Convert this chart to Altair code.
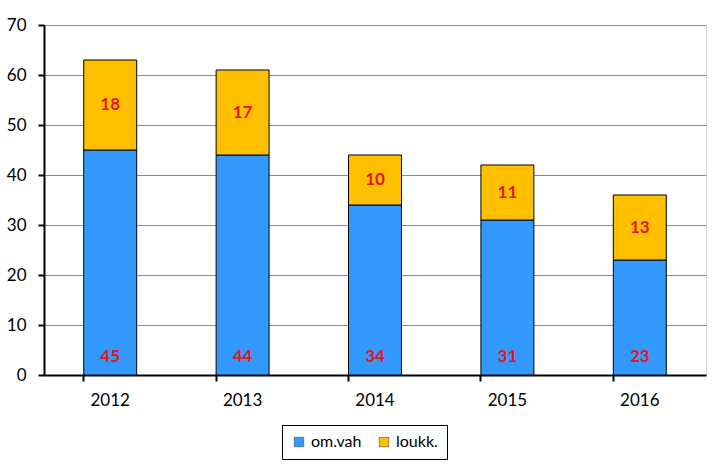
import altair as alt
import pandas as pd

years = ["2012", "2013", "2014", "2015", "2016"]
om_vah = [45, 44, 34, 31, 23]
loukk = [18, 17, 10, 11, 13]
series = ["om.vah", "loukk."]
colors = ["#3399FF", "#FFC000"]

wide = pd.DataFrame({"year": years, "om": om_vah, "lo": loukk})
long = pd.DataFrame({
    "year": years * 2,
    "series": [series[0]] * len(years) + [series[1]] * len(years),
    "value": om_vah + loukk,
    "idx": [0] * len(years) + [1] * len(years),
})

FONT = "Lato"
W, H = 662, 350

xscale = alt.Scale(paddingInner=0.6, paddingOuter=0.3)
yscale = alt.Scale(domain=[0, 70], nice=False)

bars = alt.Chart(long).mark_bar(stroke="black", strokeWidth=1).encode(
    x=alt.X("year:N", scale=xscale, sort=years,
            axis=alt.Axis(title=None, orient="bottom", labelAngle=0, labelFontSize=17,
                          labelFont=FONT, labelColor="black", ticks=False, labelPadding=17,
                          domain=True, domainColor="black", domainWidth=2, grid=False)),
    y=alt.Y("value:Q", stack="zero", scale=yscale,
            axis=alt.Axis(title=None, values=list(range(0, 71, 10)), labelFontSize=17,
                          labelFont=FONT, labelColor="black", labelPadding=12,
                          tickSize=6, tickColor="black", tickWidth=2,
                          domainColor="black", domainWidth=2,
                          grid=True, gridColor="#8a8a8a", gridWidth=1)),
    color=alt.Color("series:N", scale=alt.Scale(domain=series, range=colors),
                    legend=alt.Legend(title=None, orient="none", legendX=238, legendY=400,
                                      direction="horizontal", strokeColor="black",
                                      padding=9, labelFontSize=16, labelFont=FONT,
                                      labelColor="black", symbolType="square",
                                      symbolSize=90, symbolStrokeColor="#333",
                                      symbolStrokeWidth=0.5, columnPadding=14,
                                      labelOffset=4)),
    order=alt.Order("idx:Q", sort="ascending"),
)

ticks = alt.Chart(wide).mark_point(opacity=0).encode(
    x=alt.X("year:N", scale=xscale, sort=years,
            axis=alt.Axis(title=None, orient="bottom", labels=False, domain=False,
                          grid=False, bandPosition=0, ticks=True, tickSize=6,
                          tickColor="black", tickWidth=2)),
    y=alt.Y("om:Q", scale=yscale),
)

base_lbl = alt.Chart(wide).transform_calculate(base="0").mark_text(
    color="#E8141B", fontWeight="bold", fontSize=17, font=FONT, dy=-18
).encode(
    x=alt.X("year:N", scale=xscale, sort=years, axis=None),
    y=alt.Y("base:Q", scale=yscale),
    text="om:Q",
)

mid_lbl = alt.Chart(wide).transform_calculate(mid="datum.om + datum.lo / 2").mark_text(
    color="#E8141B", fontWeight="bold", fontSize=17, font=FONT
).encode(
    x=alt.X("year:N", scale=xscale, sort=years, axis=None),
    y=alt.Y("mid:Q", scale=yscale),
    text="lo:Q",
)

chart = alt.layer(bars, ticks, base_lbl, mid_lbl).resolve_axis(x="independent").properties(
    width=W, height=H,
    autosize=alt.AutoSizeParams(type="none"),
    padding={"left": 44, "top": 25, "right": 21, "bottom": 90},
).configure_view(stroke="black", strokeWidth=1).configure(background="white")

chart.save("out.html", embed_options={"renderer": "svg", "actions": False})
